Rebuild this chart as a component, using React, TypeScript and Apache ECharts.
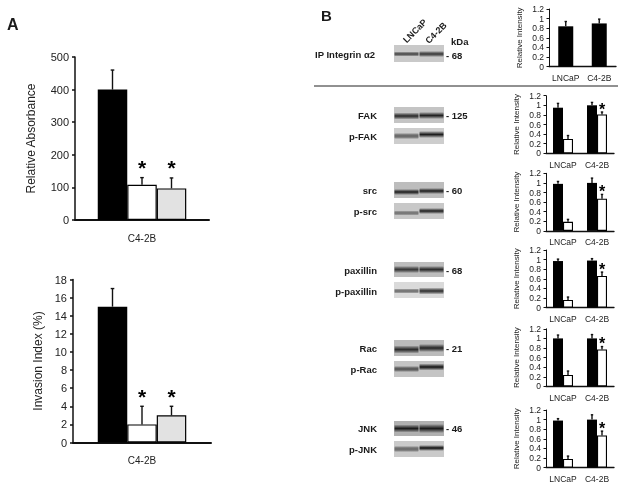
import React, { useEffect, useRef } from "react";
import * as echarts from "echarts";

const FONT = '"Liberation Sans", Arial, sans-serif';

// ---------- Panel A data ----------
const absorbanceValues = [400, 108, 97];
const absorbanceErrors = [60, 22, 32];
const absorbanceTicks = [0, 100, 200, 300, 400, 500];
const invasionValues = [15, 2, 3];
const invasionErrors = [2, 2, 1];
const invasionTicks = [0, 2, 4, 6, 8, 10, 12, 14, 16, 18];
const panelACategory = ["C4-2B"];
const panelAStars = [false, true, true];

// ---------- Panel B data ----------
const cellLines = ["LNCaP", "C4-2B"];
const integrinValues = [0.84, 0.9];
const integrinErrors = [0.1, 0.09];
const fakTotal = [0.95, 1.0];
const fakTotalErr = [0.09, 0.06];
const fakPhospho = [0.3, 0.81];
const fakPhosphoErr = [0.07, 0.05];
const srcTotal = [0.98, 1.0];
const srcTotalErr = [0.05, 0.1];
const srcPhospho = [0.19, 0.67];
const srcPhosphoErr = [0.05, 0.09];
const paxillinTotal = [0.97, 0.98];
const paxillinTotalErr = [0.04, 0.04];
const paxillinPhospho = [0.16, 0.66];
const paxillinPhosphoErr = [0.06, 0.08];
const racTotal = [1.0, 1.0];
const racTotalErr = [0.07, 0.08];
const racPhospho = [0.24, 0.77];
const racPhosphoErr = [0.08, 0.06];
const jnkTotal = [0.98, 1.0];
const jnkTotalErr = [0.04, 0.1];
const jnkPhospho = [0.18, 0.67];
const jnkPhosphoErr = [0.06, 0.09];

const proteinLabels = [
  { text: "FAK", y: 115 },
  { text: "p-FAK", y: 136 },
  { text: "src", y: 190 },
  { text: "p-src", y: 211 },
  { text: "paxillin", y: 270 },
  { text: "p-paxillin", y: 291 },
  { text: "Rac", y: 348 },
  { text: "p-Rac", y: 369 },
  { text: "JNK", y: 428 },
  { text: "p-JNK", y: 449 },
];
const kdaLabels = [
  { text: "- 68", y: 55 },
  { text: "- 125", y: 115 },
  { text: "- 60", y: 190 },
  { text: "- 68", y: 270 },
  { text: "- 21", y: 348 },
  { text: "- 46", y: 428 },
];

// blot: top, bottom, background, [left band y, colour, height], [right band y, colour, height]
const blots: any[] = [
  [45, 62, "#c9c9c9", [54, "#4a4a4a", 3], [54, "#3a3a3a", 4]],
  [107, 123, "#c4c4c4", [116, "#2a2a2a", 5], [115.5, "#222222", 5]],
  [128, 144, "#cdcdcd", [136, "#6a6a6a", 4], [134.5, "#1e1e1e", 5]],
  [182, 198, "#bdbdbd", [192, "#1e1e1e", 4], [191, "#1e1e1e", 4]],
  [203, 219, "#c8c8c8", [213, "#808080", 2.5], [211, "#222222", 4]],
  [262, 277, "#bdbdbd", [269.5, "#3a3a3a", 5], [269.5, "#2e2e2e", 5]],
  [282, 298, "#dadada", [291, "#777777", 3], [291, "#303030", 5]],
  [340, 356, "#bbbbbb", [349.5, "#2e2e2e", 6], [348, "#262626", 6]],
  [361, 377, "#c4c4c4", [369, "#555555", 4], [367, "#141414", 5]],
  [421, 436, "#b0b0b0", [428.5, "#1c1c1c", 6], [428.5, "#1c1c1c", 7]],
  [441, 457, "#cacaca", [449, "#707070", 4], [448, "#0e0e0e", 4]],
];

function errorSeries(xi: number, yi: number, cats: string[], vals: number[], errs: number[], stars: boolean[], offset: number, opts: any) {
  return {
    type: "custom",
    xAxisIndex: xi,
    yAxisIndex: yi,
    z: 5,
    silent: true,
    clip: false,
    data: cats.map((c, i) => [c, vals[i] + errs[i], vals[i], stars[i] ? 1 : 0]),
    encode: { x: 0, y: 1 },
    renderItem: (_p: any, api: any) => {
      const cat = api.value(0);
      const top = api.coord([cat, api.value(1)]);
      const base = api.coord([cat, api.value(2)]);
      const x = top[0] + offset;
      const children: any[] = [
        { type: "line", shape: { x1: x, y1: top[1], x2: x, y2: base[1] }, style: { stroke: "#111", lineWidth: opts.lw } },
        { type: "line", shape: { x1: x - opts.cap, y1: top[1], x2: x + opts.cap, y2: top[1] }, style: { stroke: "#111", lineWidth: opts.lw } },
      ];
      if (api.value(3)) {
        children.push({
          type: "text",
          style: {
            text: "*",
            x: x + (opts.starDx || 0),
            y: top[1] - opts.starGap,
            font: `bold ${opts.starSize}px ${FONT}`,
            fill: "#000",
            textAlign: "center",
            textVerticalAlign: "middle",
          },
        });
      }
      return { type: "group", children };
    },
  };
}

function barSeries(xi: number, yi: number, vals: number[], fill: string, bw: number, border: boolean, lw: number) {
  return {
    type: "bar",
    xAxisIndex: xi,
    yAxisIndex: yi,
    data: vals,
    barWidth: bw,
    barGap: 0,
    itemStyle: { color: fill, borderColor: "#000", borderWidth: border ? lw : 0 },
    silent: true,
  };
}

function buildOption() {
  const grid: any[] = [];
  const xAxis: any[] = [];
  const yAxis: any[] = [];
  const series: any[] = [];

  const addPanelA = (g: any, name: string, nameGap: number, vals: number[], errs: number[], ticks: number[]) => {
    const idx = grid.length;
    grid.push(g);
    xAxis.push({
      gridIndex: idx,
      type: "category",
      data: panelACategory,
      axisLine: { onZero: false, lineStyle: { color: "#111", width: 2 } },
      axisTick: { show: false },
      axisLabel: { color: "#222", fontFamily: FONT, fontSize: 10, margin: 13 },
    });
    yAxis.push({
      gridIndex: idx,
      type: "value",
      min: ticks[0],
      max: ticks[ticks.length - 1],
      interval: ticks[1] - ticks[0],
      name,
      nameLocation: "middle",
      nameGap,
      nameRotate: 90,
      nameTextStyle: { color: "#222", fontFamily: FONT, fontSize: 12 },
      splitLine: { show: false },
      axisLine: { show: true, lineStyle: { color: "#111", width: 1.5 } },
      axisTick: { show: true, length: 3, lineStyle: { color: "#111", width: 1.5 } },
      axisLabel: { color: "#222", fontFamily: FONT, fontSize: 11, margin: 6 },
    });
    const bw = 29.5;
    const fills = ["#000000", "#ffffff", "#e2e2e2"];
    vals.forEach((v, i) => {
      series.push(barSeries(idx, idx, [v], fills[i], bw, i > 0, 1.2));
      series.push(
        errorSeries(idx, idx, panelACategory, [v], [errs[i]], [panelAStars[i]], (i - 1) * bw, {
          lw: 1.4,
          cap: 1.8,
          starSize: 21,
          starGap: 10,
        }),
      );
    });
  };

  const addMini = (g: any, pairs: { v: number[]; e: number[]; fill: string; stars: boolean[] }[]) => {
    const idx = grid.length;
    grid.push(g);
    xAxis.push({
      gridIndex: idx,
      type: "category",
      data: cellLines,
      axisLine: { onZero: false, lineStyle: { color: "#111", width: 1.3 } },
      axisTick: { show: false },
      axisLabel: { color: "#222", fontFamily: FONT, fontSize: 8.5, margin: 7, interval: 0 },
    });
    yAxis.push({
      gridIndex: idx,
      type: "value",
      min: 0,
      max: 1.2,
      interval: 0.2,
      name: "Relative Intensity",
      nameLocation: "middle",
      nameGap: 26,
      nameRotate: 90,
      nameTextStyle: { color: "#222", fontFamily: FONT, fontSize: 8 },
      splitLine: { show: false },
      axisLine: { show: true, lineStyle: { color: "#111", width: 1 } },
      axisTick: { show: true, length: 2.5, lineStyle: { color: "#111", width: 1 } },
      axisLabel: { color: "#222", fontFamily: FONT, fontSize: 8.5, margin: 5 },
    });
    const bw = pairs.length === 1 ? 15 : 10;
    pairs.forEach((p, i) => {
      const off = pairs.length === 1 ? 0 : (i - 0.5) * bw;
      series.push(barSeries(idx, idx, p.v, p.fill, bw, p.fill === "#ffffff", 1.1));
      series.push(
        errorSeries(idx, idx, cellLines, p.v, p.e, p.stars, off, {
          lw: 1.4,
          cap: 1.2,
          starSize: 16,
          starGap: 3,
        }),
      );
    });
  };

  addPanelA({ left: 75, top: 57, width: 134, height: 163 }, "Relative Absorbance", 38, absorbanceValues, absorbanceErrors, absorbanceTicks);
  addPanelA({ left: 73, top: 279.5, width: 138, height: 163 }, "Invasion Index (%)", 29, invasionValues, invasionErrors, invasionTicks);

  addMini({ left: 549, top: 9, width: 67, height: 57.7 }, [{ v: integrinValues, e: integrinErrors, fill: "#000000", stars: [false, false] }]);
  const minis: [number, number[], number[], number[], number[]][] = [
    [95.7, fakTotal, fakTotalErr, fakPhospho, fakPhosphoErr],
    [173.3, srcTotal, srcTotalErr, srcPhospho, srcPhosphoErr],
    [250, paxillinTotal, paxillinTotalErr, paxillinPhospho, paxillinPhosphoErr],
    [328.8, racTotal, racTotalErr, racPhospho, racPhosphoErr],
    [410, jnkTotal, jnkTotalErr, jnkPhospho, jnkPhosphoErr],
  ];
  minis.forEach(([top, tv, te, pv, pe]) => {
    addMini({ left: 546, top, width: 68, height: 57.6 }, [
      { v: tv, e: te, fill: "#000000", stars: [false, false] },
      { v: pv, e: pe, fill: "#ffffff", stars: [false, true] },
    ]);
  });

  const graphic: any[] = [];
  const txt = (text: string, x: number, y: number, font: string, align = "left", rotation = 0) =>
    graphic.push({
      type: "text",
      x,
      y,
      rotation,
      style: { text, x: 0, y: 0, font, fill: "#1a1a1a", textAlign: align, textVerticalAlign: "middle" },
    });

  txt("A", 7, 24, `bold 16px ${FONT}`);
  txt("B", 321, 15, `bold 15px ${FONT}`);
  txt("LNCaP", 415, 31, `bold 9px ${FONT}`, "center", Math.PI / 4);
  txt("C4-2B", 436, 33, `bold 9px ${FONT}`, "center", Math.PI / 4);
  txt("kDa", 451, 41, `bold 9.5px ${FONT}`);
  txt("IP Integrin \u03b12", 315, 54, `bold 9.5px ${FONT}`);
  proteinLabels.forEach((l) => txt(l.text, 377, l.y, `bold 9.5px ${FONT}`, "right"));
  kdaLabels.forEach((l) => txt(l.text, 446, l.y, `bold 9.5px ${FONT}`));
  graphic.push({
    type: "line",
    shape: { x1: 314, y1: 86, x2: 618, y2: 86 },
    style: { stroke: "#222", lineWidth: 1 },
  });

  const bandFill = (c: string) =>
    new echarts.graphic.LinearGradient(0, 0, 0, 1, [
      { offset: 0, color: "rgba(0,0,0,0)" },
      { offset: 0.5, color: c },
      { offset: 1, color: "rgba(0,0,0,0)" },
    ]);
  blots.forEach(([top, bottom, bg, left, right]) => {
    graphic.push({ type: "rect", shape: { x: 394, y: top, width: 50, height: bottom - top }, style: { fill: bg } });
    [[left, 394.5], [right, 419.5]].forEach(([b, x]: any) => {
      const h = b[2] + 2;
      graphic.push({
        type: "rect",
        shape: { x, y: b[0] - h / 2, width: 24, height: h, r: 1 },
        style: { fill: bandFill(b[1]) },
      });
    });
  });

  return { animation: false, backgroundColor: "#ffffff", textStyle: { fontFamily: FONT }, grid, xAxis, yAxis, series, graphic };
}

export default function App() {
  const ref = useRef<HTMLDivElement>(null);
  useEffect(() => {
    if (!ref.current) return;
    const chart = echarts.init(ref.current, undefined, { renderer: "svg" });
    chart.setOption(buildOption() as any);
    return () => chart.dispose();
  }, []);
  return <div ref={ref} style={{ position: "absolute", left: 0, top: 0, width: 624, height: 486, filter: "blur(0.4px)" }} />;
}
